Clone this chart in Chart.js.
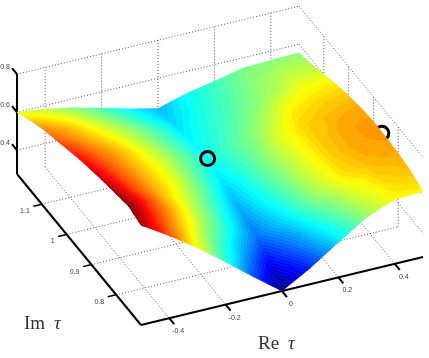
<!DOCTYPE html>
<html>
<head>
<meta charset="utf-8">
<title>surface</title>
<script src="https://cdn.jsdelivr.net/npm/chart.js@4"></script>
<style>
  html, body { margin: 0; padding: 0; background: #fff; }
  canvas { display: block; }
</style>
</head>
<body>
<canvas id="myChart" width="429" height="358"></canvas>
<script>
// axis values
const reValues = [-0.5, -0.4, -0.3, -0.2, -0.1, 0, 0.1, 0.2, 0.3, 0.4, 0.5];
const imValues = [0.7, 0.75, 0.8, 0.85, 0.9, 0.95, 1.0, 1.05, 1.1, 1.15, 1.2];

// surface heights, one row per imValues entry
const z070 = [0.80, 0.71, 0.61, 0.50, 0.385, 0.275, 0.36, 0.46, 0.555, 0.615, 0.62];
const z075 = [0.82, 0.725, 0.635, 0.535, 0.44, 0.335, 0.415, 0.51, 0.59, 0.635, 0.648];
const z080 = [0.805, 0.735, 0.655, 0.57, 0.485, 0.40, 0.47, 0.565, 0.63, 0.655, 0.662];
const z085 = [0.79, 0.72, 0.655, 0.585, 0.505, 0.425, 0.50, 0.58, 0.64, 0.665, 0.668];
const z090 = [0.772, 0.71, 0.655, 0.60, 0.525, 0.445, 0.515, 0.585, 0.64, 0.665, 0.67];
const z095 = [0.752, 0.70, 0.65, 0.60, 0.535, 0.468, 0.52, 0.59, 0.64, 0.655, 0.662];
const z100 = [0.727, 0.685, 0.645, 0.595, 0.54, 0.485, 0.525, 0.572, 0.625, 0.64, 0.647];
const z105 = [0.70, 0.665, 0.625, 0.58, 0.53, 0.48, 0.51, 0.55, 0.595, 0.62, 0.627];
const z110 = [0.675, 0.645, 0.605, 0.565, 0.52, 0.47, 0.50, 0.53, 0.565, 0.595, 0.60];
const z115 = [0.64, 0.615, 0.58, 0.54, 0.497, 0.455, 0.49, 0.52, 0.555, 0.575, 0.575];
const z120 = [0.60, 0.58, 0.552, 0.514, 0.474, 0.44, 0.483, 0.512, 0.545, 0.551, 0.554];
const zRows = [z070, z075, z080, z085, z090, z095, z100, z105, z110, z115, z120];

// the two marked points
const markerRe = [0, 0.5];
const markerIm = [1, 0.866];
const markerZ = [0.495, 0.662];

// ticks
const reTicks = [-0.4, -0.2, 0, 0.2, 0.4];
const imTicks = [0.8, 0.9, 1, 1.1];
const zTicks = [0.4, 0.6, 0.8];
const reTickLabels = ['-0.4', '-0.2', '0', '0.2', '0.4'];
const imTickLabels = ['0.8', '0.9', '1', '1.1'];
const zTickLabels = ['0.4', '0.6', '0.8'];

const reMin = -0.5, reMax = 0.5, imMin = 0.7, imMax = 1.2, zMin = 0.275, zMax = 0.8;
const colorMin = 0.275, colorMax = 0.82, colorLevels = 64;

// fixed view of the 3d box
function project(re, im, z) {
  let u = re - reMin;
  let v = im - imMin;
  return {
    x: 141 + 282 * u - 248 * v,
    y: 325 - 68 * u - 302 * v - 190 * (z - zMin)
  };
}

function clamp(a) { return Math.max(0, Math.min(1, a)); }

function jet(t) {
  let r = clamp(Math.min(4 * t - 1.5, -4 * t + 4.5));
  let g = clamp(Math.min(4 * t - 0.5, -4 * t + 3.5));
  let b = clamp(Math.min(4 * t + 0.5, -4 * t + 2.5));
  return 'rgb(' + Math.round(r * 255) + ',' + Math.round(g * 255) + ',' + Math.round(b * 255) + ')';
}

// keep the part of a polygon on one side of a height level
function clipLevel(poly, level, keepAbove) {
  let out = [];
  for (let i = 0; i < poly.length; i++) {
    let a = poly[i];
    let b = poly[(i + 1) % poly.length];
    let aIn = keepAbove ? a.z >= level : a.z <= level;
    let bIn = keepAbove ? b.z >= level : b.z <= level;
    if (aIn) out.push(a);
    if (aIn != bIn) {
      let s = (level - a.z) / (b.z - a.z);
      out.push({ x: a.x + (b.x - a.x) * s, y: a.y + (b.y - a.y) * s, z: level });
    }
  }
  return out;
}

function vertex(i, j) {
  let z = zRows[j][i];
  let p = project(reValues[i], imValues[j], z);
  return { x: p.x, y: p.y, z: z };
}

function lineSet(points, color, width, dash) {
  return {
    data: points,
    showLine: true,
    borderColor: color,
    borderWidth: width,
    borderDash: dash || [],
    borderCapStyle: 'butt',
    pointRadius: 0,
    fill: false,
    tension: 0
  };
}

function ringSet(k) {
  return {
    data: [project(markerRe[k], markerIm[k], markerZ[k])],
    showLine: false,
    pointRadius: 7,
    pointBorderWidth: 3,
    pointBorderColor: '#000',
    pointBackgroundColor: 'rgba(0,0,0,0)'
  };
}

// drawn in this order, back to front
let layers = [];
const dotted = '#5a5a5a';

// back walls and floor grid
zTicks.forEach(function (z) {
  layers.push(lineSet([project(reMin, imMax, z), project(reMax, imMax, z)], dotted, 1, [1, 2]));
  layers.push(lineSet([project(reMax, imMax, z), project(reMax, imMin, z)], dotted, 1, [1, 2]));
});
reTicks.forEach(function (re) {
  layers.push(lineSet([project(re, imMax, zMin), project(re, imMax, zMax)], dotted, 1, [1, 2]));
  layers.push(lineSet([project(re, imMin, zMin), project(re, imMax, zMin)], dotted, 1, [1, 2]));
});
imTicks.forEach(function (im) {
  layers.push(lineSet([project(reMax, im, zMin), project(reMax, im, zMax)], dotted, 1, [1, 2]));
  layers.push(lineSet([project(reMin, im, zMin), project(reMax, im, zMin)], dotted, 1, [1, 2]));
});

// box axes
layers.push(lineSet([project(reMin, imMax, zMax), project(reMin, imMax, zMin)], '#000', 2));
layers.push(lineSet([project(reMin, imMax, zMin), project(reMin, imMin, zMin)], '#000', 2));
layers.push(lineSet([project(reMin, imMin, zMin), project(reMax, imMin, zMin)], '#000', 2));
zTicks.forEach(function (z) {
  layers.push(lineSet([project(reMin, imMax, z), project(reMin, imMax + 0.02, z)], '#000', 2));
});
imTicks.forEach(function (im) {
  layers.push(lineSet([project(reMin, im, zMin), project(reMin - 0.03, im, zMin)], '#000', 1.5));
});
reTicks.forEach(function (re) {
  layers.push(lineSet([project(re, imMin, zMin), project(re, imMin - 0.02, zMin)], '#000', 2));
});

// this ring sits on the far edge, the surface covers its lower half
layers.push(ringSet(1));

// surface as height bands, far rows first
for (let j = imValues.length - 2; j >= 0; j--) {
  for (let i = 0; i < reValues.length - 1; i++) {
    let a = vertex(i, j), b = vertex(i + 1, j), c = vertex(i + 1, j + 1), d = vertex(i, j + 1);
    [[a, b, c], [a, c, d]].forEach(function (tri) {
      let lo = Math.min(tri[0].z, tri[1].z, tri[2].z);
      let hi = Math.max(tri[0].z, tri[1].z, tri[2].z);
      let step = (colorMax - colorMin) / colorLevels;
      let first = Math.max(0, Math.floor((lo - colorMin) / step));
      let last = Math.min(colorLevels - 1, Math.floor((hi - colorMin) / step));
      for (let n = first; n <= last; n++) {
        let poly = clipLevel(tri, colorMin + n * step, true);
        poly = clipLevel(poly, colorMin + (n + 1) * step, false);
        if (poly.length < 3) continue;
        let color = jet((n + 0.5) / colorLevels);
        let pts = poly.map(function (p) { return { x: p.x, y: p.y }; });
        pts.push(pts[0]);
        layers.push({
          data: pts,
          showLine: true,
          borderColor: color,
          borderWidth: 0.6,
          backgroundColor: color,
          fill: 'shape',
          pointRadius: 0,
          tension: 0
        });
      }
    });
  }
}

layers.push(ringSet(0));

// chart.js paints low order last, so give the last layer the lowest
layers.forEach(function (d, k) { d.order = layers.length - k; });

const boxLabels = {
  id: 'boxLabels',
  afterDraw: function (chart) {
    const ctx = chart.ctx;
    const sx = chart.scales.x, sy = chart.scales.y;
    function put(text, p, dx, dy) {
      ctx.fillText(text, sx.getPixelForValue(p.x) + dx, sy.getPixelForValue(p.y) + dy);
    }
    ctx.save();
    ctx.font = '7px "Liberation Sans"';
    ctx.fillStyle = '#3c3c3c';
    ctx.textBaseline = 'middle';
    ctx.textAlign = 'center';
    zTicks.forEach(function (z, k) { put(zTickLabels[k], project(reMin, imMax, z), -12, -7); });
    reTicks.forEach(function (re, k) { put(reTickLabels[k], project(re, imMin, zMin), 9, 13); });
    ctx.textAlign = 'right';
    imTicks.forEach(function (im, k) { put(imTickLabels[k], project(reMin, im, zMin), -12, 7); });

    ctx.textAlign = 'left';
    ctx.textBaseline = 'alphabetic';
    ctx.fillStyle = '#333';
    ctx.font = '19px "Liberation Serif"';
    ctx.fillText('Im', 24, 329);
    ctx.fillText('Re', 258, 349);
    ctx.font = 'italic 19px "Liberation Serif"';
    ctx.fillText('τ', 54, 329);
    ctx.fillText('τ', 288, 349);
    ctx.restore();
  }
};

const ctx = document.getElementById('myChart').getContext('2d');
const myChart = new Chart(ctx, {
  type: 'scatter',
  data: { datasets: layers },
  options: {
    responsive: false,
    animation: false,
    events: [],
    layout: { padding: 0, autoPadding: false },
    plugins: { legend: { display: false }, tooltip: { enabled: false } },
    scales: {
      x: { type: 'linear', min: 0, max: 429, display: false },
      y: { type: 'linear', min: 0, max: 358, reverse: true, display: false }
    }
  },
  plugins: [boxLabels]
});
</script>
</body>
</html>
